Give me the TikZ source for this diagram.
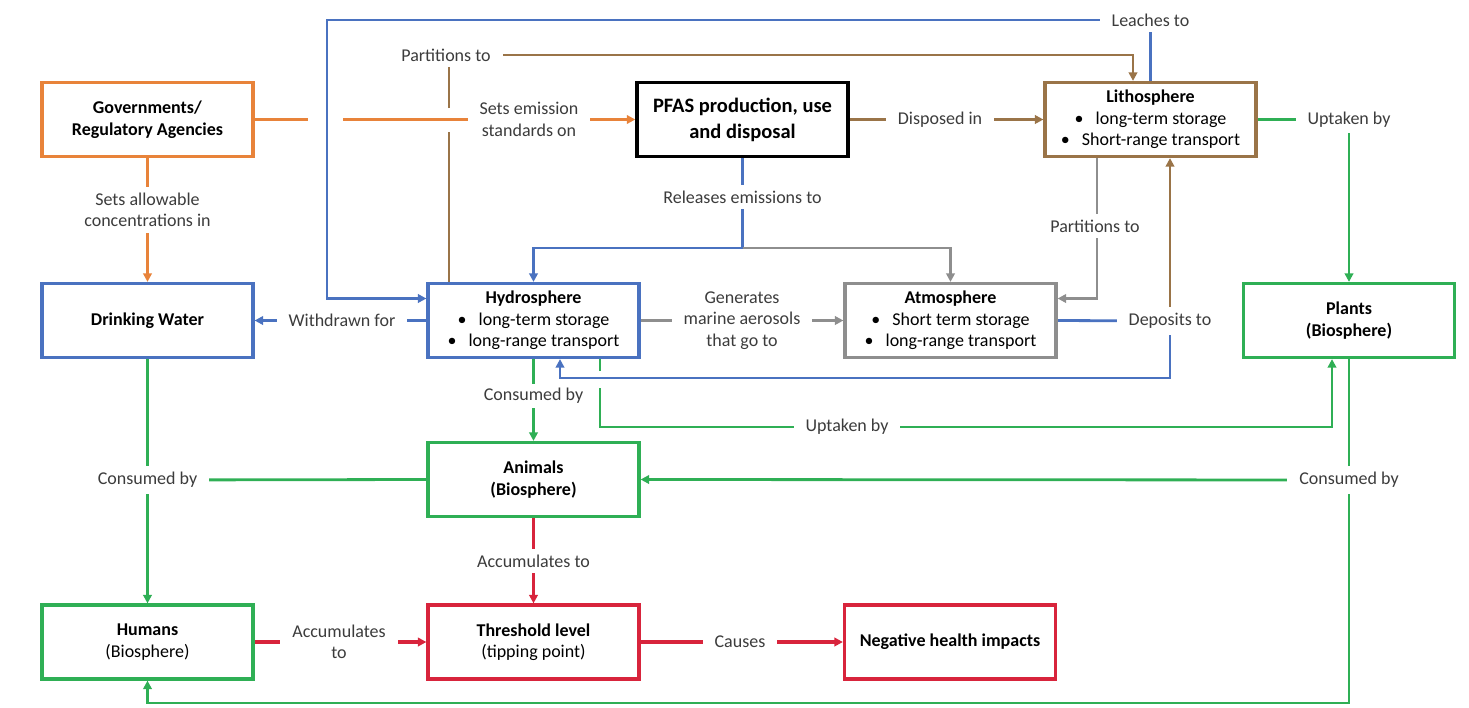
\documentclass[tikz,border=0pt]{standalone}
\usepackage{fontspec}
\setmainfont{Carlito}
\usetikzlibrary{arrows.meta,backgrounds,calc}
\definecolor{orng}{HTML}{E8833A}
\definecolor{blu}{HTML}{4A72C0}
\definecolor{brn}{HTML}{9A7448}
\definecolor{gry}{HTML}{8E8E8E}
\definecolor{grn}{HTML}{2FAF55}
\definecolor{rd}{HTML}{D8243C}
\definecolor{lbl}{HTML}{3C3C3C}
\begin{document}
\begin{tikzpicture}[x=1pt,y=-1pt,
  box/.style={draw, line width=3.2pt, minimum width=211pt, minimum height=74pt, align=center, inner sep=2pt, font=\fontsize{18}{21.5}\selectfont},
  lab/.style={fill=white, text=lbl, align=center, inner xsep=12pt, inner ysep=6pt, font=\fontsize{18}{21.5}\selectfont},
  con/.style={line width=2.8pt},
  tip/.style={-{Triangle[length=8.5pt,width=8.5pt]}}
]
\useasboundingbox (0,0) rectangle (1469,707);
% boxes
\node[box, draw=orng] (gov) at (147.5,119.5) {\textbf{Governments/}\\\textbf{Regulatory Agencies}};
\node[box, draw=black, line width=3.4pt, font=\fontsize{20.5}{26}\selectfont\bfseries] (pfas) at (742.5,119.5) {PFAS production, use\\and disposal};
\node[box, draw=brn] (litho) at (1150.5,119.5) {\textbf{Lithosphere}\\\textbullet\hspace{12pt}long-term storage\\\textbullet\hspace{12pt}Short-range transport};
\node[box, draw=blu] (dw) at (147.5,320.5) {\textbf{Drinking Water}};
\node[box, draw=blu] (hydro) at (533.5,320.5) {\textbf{Hydrosphere}\\\textbullet\hspace{12pt}long-term storage\\\textbullet\hspace{12pt}long-range transport};
\node[box, draw=gry] (atmo) at (950.5,320.5) {\textbf{Atmosphere}\\\textbullet\hspace{12pt}Short term storage\\\textbullet\hspace{12pt}long-range transport};
\node[box, draw=grn] (plants) at (1349,320.5) {\textbf{Plants}\\\textbf{(Biosphere)}};
\node[box, draw=grn] (animals) at (533.5,479.5) {\textbf{Animals}\\\textbf{(Biosphere)}};
\node[box, draw=grn] (humans) at (147.5,642) {\textbf{Humans}\\(Biosphere)};
\node[box, draw=rd] (thr) at (533.5,642) {\textbf{Threshold level}\\(tipping point)};
\node[box, draw=rd] (neg) at (950,642) {\textbf{Negative health impacts}};
% labels
\node[lab] (l1) at (446,55) {Partitions to};
\node[lab] (l2) at (1150.5,20) {Leaches to};
\node[lab] (l3) at (529,119.5) {Sets emission\\standards on};
\node[lab] (l4) at (940,119.5) {Disposed in};
\node[lab] (l5) at (1349,119.5) {Uptaken by};
\node[lab] (l6) at (147.5,210) {Sets allowable\\concentrations in};
\node[lab] (l7) at (742.5,197) {Releases emissions to};
\node[lab] (l8) at (1095,226) {Partitions to};
\node[lab] (l9) at (342,320.5) {Withdrawn for};
\node[lab] (l10) at (742,320.5) {Generates\\marine aerosols\\that go to};
\node[lab] (l11) at (1170,321) {Deposits to};
\node[lab, inner ysep=4pt] (l12) at (533.5,396) {Consumed by};
\node[lab] (l13) at (847,427) {Uptaken by};
\node[lab] (l14) at (147.5,480) {Consumed by};
\node[lab] (l15) at (1349,480) {Consumed by};
\node[lab] (l16) at (533.5,561) {Accumulates to};
\node[lab] (l17) at (339,642) {Accumulates\\to};
\node[lab] (l18) at (740,642) {Causes};
% connectors
\begin{scope}[on background layer]
\coordinate (oh1) at (308,119.5);
\coordinate (oh2) at (343,119.5);
\draw[con,orng] (gov.east) -- (oh1);
\draw[con,orng,tip] (oh2) -- (pfas.west);
\draw[con,orng,tip] (gov.south) -- (dw.north);
\coordinate (bh1) at (449,132);
\coordinate (bh2) at (449,108);
\draw[con,brn] (hydro.north -| bh1) -- (bh1);
\draw[con,brn,tip] (bh2) |- (l1.center) -| ($(litho.north)+(-17.5,0)$);
\coordinate (lc) at (327,20);
\draw[con,blu,tip] (litho.north) |- (lc) |- ($(hydro.west)+(0,-22)$);
\draw[con,brn,tip] (pfas.east) -- (litho.west);
\coordinate (rj) at (742.5,248);
\draw[con,blu] (pfas.south) -- (rj);
\draw[con,blu,tip] (rj) -| (hydro.north);
\draw[con,gry,line width=2.3pt,tip] (rj) -| (atmo.north);
\draw[con,gry,line width=2.3pt,tip] ($(litho.south)+(-53.5,0)$) |- ($(atmo.east)+(0,-22)$);
\draw[con,blu] (atmo.east) -- (l11.center);
\draw[con,brn,tip] (l11.center) -- (l11.center |- litho.south);
\coordinate (dj) at (560,378);
\draw[con,blu,tip] (l11.center) |- (dj) -- (dj |- hydro.south);
\draw[con,blu,tip] (hydro.west) -- (dw.east);
\draw[con,gry,line width=2.3pt,tip] (hydro.east) -- (atmo.west);
\draw[con,grn,tip] (hydro.south) -- (animals.north);
\coordinate (gh1) at (600,371);
\coordinate (gh2) at (600,388);
\draw[con,grn] (hydro.south -| gh1) -- (gh1);
\draw[con,grn,tip] (gh2) |- (l13.center) -| ($(plants.south)+(-17,0)$);
\draw[con,grn,tip] (litho.east) -| (plants.north);
\coordinate (bot) at (147.5,703);
\draw[con,grn] (plants.south) -- (l15.center);
\draw[con,grn,tip] (l15.center) -- (animals.east);
\draw[con,grn,tip] (l15.center) |- (bot) -- (humans.south);
\draw[con,grn] (dw.south) -- (l14.center);
\draw[con,grn] (animals.west) -- (l14.center);
\draw[con,grn,tip] (l14.center) -- (humans.north);
\draw[con,rd,line width=3.1pt,tip] (animals.south) -- (thr.north);
\draw[con,rd,line width=3.1pt,tip] (humans.east) -- (thr.west);
\draw[con,rd,line width=3.1pt,tip] (thr.east) -- (neg.west);
\end{scope}
\end{tikzpicture}
\end{document}
